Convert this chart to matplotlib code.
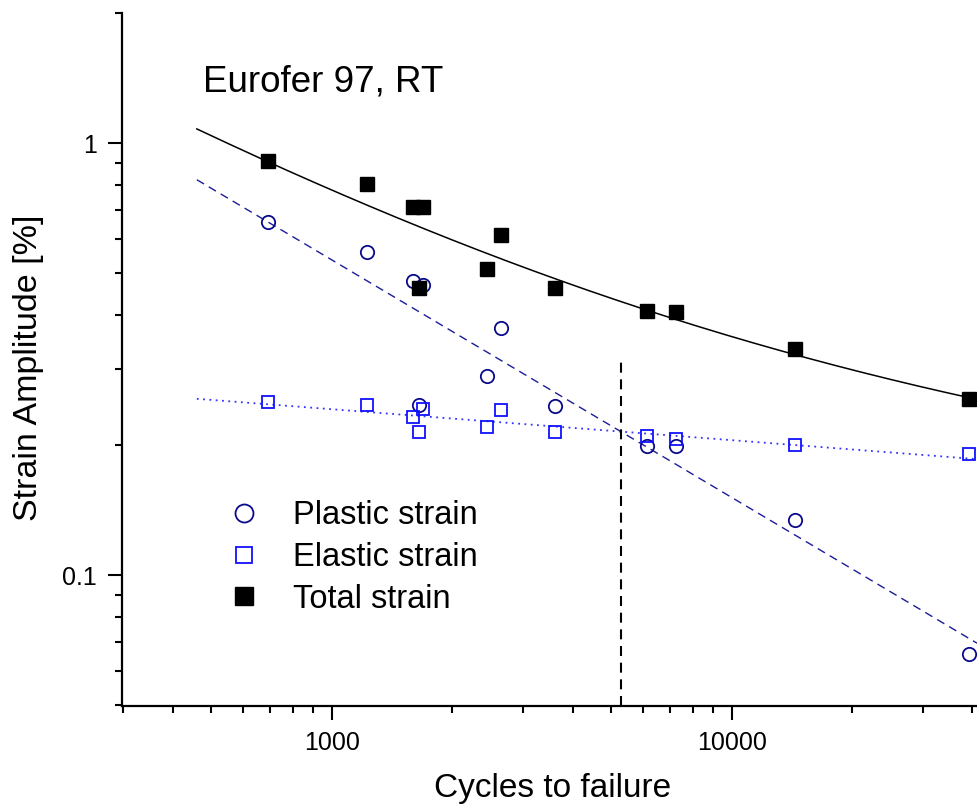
import numpy as np
import matplotlib
matplotlib.use('Agg')
import matplotlib.pyplot as plt
from matplotlib.ticker import LogLocator, NullFormatter

plt.rcParams['font.family'] = ['Liberation Sans', 'DejaVu Sans']

# cycles to failure for each test
cycles = [694, 1225, 1600, 1652, 1694, 2441, 2646, 3614, 6132, 7278, 14420, 39260]
# strain amplitudes [%]
plastic = [0.657, 0.560, 0.480, 0.248, 0.470, 0.290, 0.373, 0.247, 0.199, 0.1995, 0.1345, 0.0656]
elastic = [0.252, 0.248, 0.232, 0.215, 0.243, 0.221, 0.241, 0.215, 0.210, 0.207, 0.2005, 0.191]
total = [0.909, 0.804, 0.711, 0.462, 0.711, 0.511, 0.613, 0.462, 0.409, 0.407, 0.334, 0.256]

# Coffin-Manson / Basquin fit parameters (eps = coef * N^exp)
plastic_coef, plastic_exp = 24.0, -0.550
elastic_coef, elastic_exp = 0.3974, -0.0716
fit_range = (460, 41050)
transition_top = 0.315

fig = plt.figure(figsize=(9.77, 8.1), dpi=100)
ax = fig.add_axes([122/977, 1 - 705.7/810, 1 - 122/977, (705.7 - 13)/810])

N = np.logspace(np.log10(fit_range[0]), np.log10(fit_range[1]), 200)
pl_fit = plastic_coef * N**plastic_exp
el_fit = elastic_coef * N**elastic_exp
ax.plot(N, pl_fit, color='#1c1c99', lw=1.0, dashes=(6, 4))
ax.plot(N, el_fit, color='#3333ff', lw=1.3, dashes=(1, 2.5))
ax.plot(N, pl_fit + el_fit, color='black', lw=1.1)

# transition life, where elastic and plastic fits cross
N_t = (plastic_coef / elastic_coef) ** (1.0 / (elastic_exp - plastic_exp))
ax.plot([N_t, N_t], [0.0499, transition_top], color='black', lw=1.5, dashes=(4.8, 3.2))

h1, = ax.plot(cycles, plastic, 'o', ls='none', ms=9.6, mfc='none', mec='#0a0a8c', mew=1.3, label='Plastic strain')
h2, = ax.plot(cycles, elastic, 's', ls='none', ms=9.0, mfc='none', mec='#1010ff', mew=1.3, label='Elastic strain')
h3, = ax.plot(cycles, total, 's', ls='none', ms=10, color='black', label='Total strain')

ax.set_xscale('log')
ax.set_yscale('log')
ax.set_xlim(299, 41050)
ax.set_ylim(0.0499, 2.003)

ax.set_xticks([1000, 10000], ['1000', '10000'])
ax.set_yticks([0.1, 1], ['0.1', '1'])
ax.xaxis.set_minor_locator(LogLocator(base=10, subs=np.arange(2, 10)))
ax.yaxis.set_minor_locator(LogLocator(base=10, subs=np.arange(2, 10)))
ax.xaxis.set_minor_formatter(NullFormatter())
ax.yaxis.set_minor_formatter(NullFormatter())
ax.tick_params(which='major', length=10, width=1.5, labelsize=18, pad=8)
ax.tick_params(which='minor', length=5, width=1.5)

for s in ['top', 'right']:
    ax.spines[s].set_visible(False)
for s in ['left', 'bottom']:
    ax.spines[s].set_linewidth(1.6)

ax.set_xlabel('Cycles to failure', fontsize=24)
ax.set_ylabel('Strain Amplitude [%]', fontsize=24.5)
ax.xaxis.set_label_coords(0.5035, -0.097)
ax.yaxis.set_label_coords(-0.091, 0.4875)

ax.text(0.095, 0.886, 'Eurofer 97, RT', transform=ax.transAxes, fontsize=26.5)

ax.legend(handles=[h1, h2, h3], loc='center left', bbox_to_anchor=(0.124, 0.214),
          frameon=False, fontsize=23.5, handlelength=1.0, handletextpad=1.0,
          borderpad=0, borderaxespad=0, labelspacing=0.33, markerscale=1.35)

fig.savefig('out.png', dpi=100)
